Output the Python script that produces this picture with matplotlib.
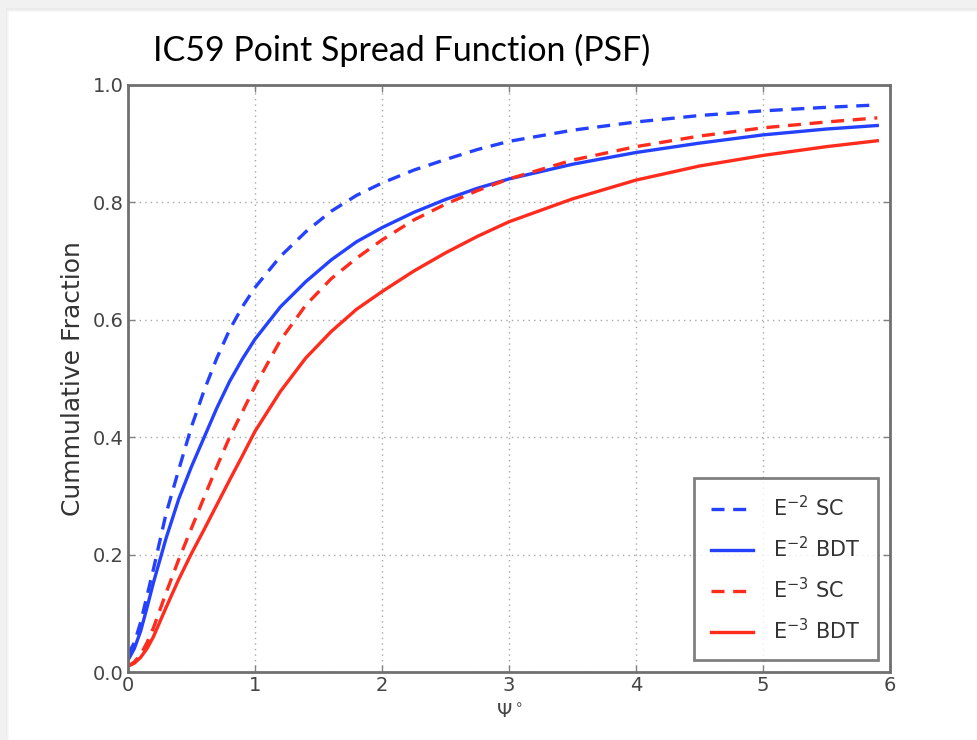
import numpy as np
import matplotlib
matplotlib.use("Agg")
import matplotlib.pyplot as plt
from matplotlib.patches import Rectangle

# ---- data ----
psi = [0, 0.05, 0.1, 0.15, 0.2, 0.3, 0.4, 0.5, 0.6, 0.7, 0.8, 0.9, 1.0, 1.2, 1.4, 1.6, 1.8,
       2.0, 2.25, 2.5, 2.75, 3.0, 3.5, 4.0, 4.5, 5.0, 5.5, 5.9]
e2_sc = [0.03, 0.05, 0.085, 0.13, 0.175, 0.27, 0.345, 0.418, 0.48, 0.535, 0.583, 0.622, 0.655,
         0.708, 0.75, 0.785, 0.812, 0.833, 0.855, 0.873, 0.89, 0.904, 0.923, 0.937, 0.948, 0.956,
         0.962, 0.966]
e2_bdt = [0.02, 0.04, 0.07, 0.11, 0.152, 0.228, 0.295, 0.35, 0.40, 0.45, 0.495, 0.533, 0.567,
          0.622, 0.665, 0.702, 0.733, 0.757, 0.783, 0.805, 0.824, 0.840, 0.865, 0.885, 0.901,
          0.915, 0.925, 0.931]
e3_sc = [0.01, 0.017, 0.03, 0.05, 0.075, 0.135, 0.192, 0.245, 0.298, 0.35, 0.40, 0.443, 0.487,
         0.565, 0.625, 0.67, 0.705, 0.736, 0.77, 0.797, 0.82, 0.840, 0.872, 0.895, 0.913, 0.927,
         0.937, 0.944]
e3_bdt = [0.01, 0.015, 0.025, 0.04, 0.06, 0.11, 0.158, 0.202, 0.243, 0.285, 0.327, 0.368, 0.41,
          0.478, 0.535, 0.58, 0.618, 0.648, 0.683, 0.714, 0.742, 0.767, 0.806, 0.838, 0.862,
          0.880, 0.895, 0.905]
labels = [r"E$^{-2}$ SC", r"E$^{-2}$ BDT", r"E$^{-3}$ SC", r"E$^{-3}$ BDT"]
title = "IC59 Point Spread Function (PSF)"
xticks = [0, 1, 2, 3, 4, 5, 6]
yticks = [0.0, 0.2, 0.4, 0.6, 0.8, 1.0]

plt.rcParams['mathtext.fontset'] = 'dejavusans'

fig = plt.figure(figsize=(9.77, 7.40), dpi=100)
fig.patch.set_facecolor('#f1f1f1')
# slide card with soft shadow
for i, c in enumerate(['#ebebeb', '#f3f3f3', '#f8f8f8']):
    fig.add_artist(Rectangle(((6 + i) / 977, 0), 1, (740 - 8 - i * 1.5) / 740,
                             transform=fig.transFigure, facecolor=c, edgecolor='none', zorder=0))
fig.add_artist(Rectangle((9 / 977, 0), 1, (740 - 12) / 740, transform=fig.transFigure,
                         facecolor='white', edgecolor='none', zorder=0))

fig.text(153 / 977, 1 - 50 / 740, title, fontsize=24.5, family='Lato', color='black',
         ha='left', va='center')

ax = fig.add_axes([128 / 977, 1 - 672 / 740, (890 - 128) / 977, (672 - 85) / 740])
ax.set_facecolor('white')
blue = '#2341ff'
red = '#ff2b1c'
lw = 2.4
dash = (3.9, 2.6)
ax.plot(psi, e2_sc, color=blue, lw=lw, dashes=dash, label=labels[0])
ax.plot(psi, e2_bdt, color=blue, lw=lw, label=labels[1])
ax.plot(psi, e3_sc, color=red, lw=lw, dashes=dash, label=labels[2])
ax.plot(psi, e3_bdt, color=red, lw=lw, label=labels[3])

ax.set_xlim(0, 6)
ax.set_ylim(0, 1)
ax.set_xticks(xticks)
ax.set_yticks(yticks)
ax.set_xticklabels([str(t) for t in xticks])
ax.set_yticklabels([f"{t:.1f}" for t in yticks])
ax.grid(True, linestyle=(0, (1, 3)), color='#a8a8a8', lw=1.0)
for s in ax.spines.values():
    s.set_color('#707070')
    s.set_linewidth(2.0)
ax.tick_params(direction='in', length=5, width=1, color='#808080', labelcolor='#444444',
               labelsize=14, top=True, right=True, pad=3)
ax.set_ylabel("Cummulative Fraction", fontsize=18, color='#333333', labelpad=6)
ax.set_xlabel(r"$\Psi^\circ$", fontsize=14, color='#444444', labelpad=6)

leg = ax.legend(loc='lower right', fontsize=15, frameon=True, fancybox=False,
                handlelength=2.0, handletextpad=1.0, borderpad=0.8, labelspacing=0.75,
                borderaxespad=0.6)
leg.get_frame().set_edgecolor('#606060')
leg.get_frame().set_linewidth(2.0)
for t in leg.get_texts():
    t.set_color('#333333')

fig.savefig('out.png', dpi=100, facecolor=fig.get_facecolor())
